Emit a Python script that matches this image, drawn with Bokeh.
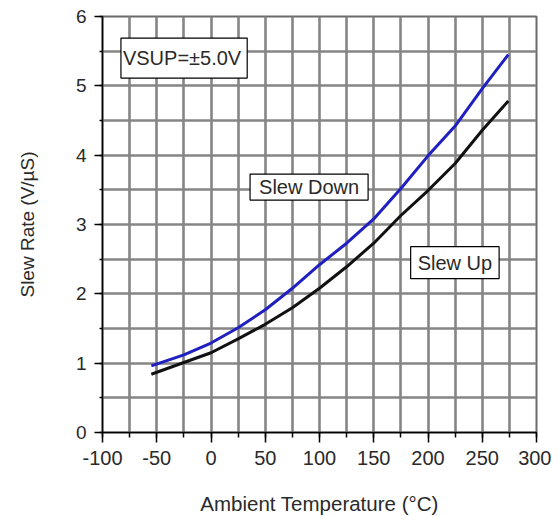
from bokeh.plotting import figure
from bokeh.models import FixedTicker, Label, Range1d
from bokeh.embed import file_html
from bokeh.resources import INLINE

# Data
temp = [-55, -25, 0, 25, 50, 75, 100, 125, 150, 175, 200, 225, 250, 274]
slew_down = [0.96, 1.12, 1.29, 1.51, 1.77, 2.08, 2.42, 2.73, 3.08, 3.52, 3.99, 4.42, 4.96, 5.45]
slew_up = [0.84, 1.01, 1.15, 1.35, 1.56, 1.80, 2.08, 2.39, 2.73, 3.13, 3.49, 3.88, 4.36, 4.78]

x_major = list(range(-100, 301, 50))
x_minor = list(range(-100, 301, 25))
x_labels = {v: str(v) for v in x_major}  # plain hyphen minus like the reference
y_major = [0, 1, 2, 3, 4, 5, 6]
y_minor = [i * 0.5 for i in range(13)]

FONT = "Liberation Sans"
TXT = "#2a2a2a"

p = figure(frame_width=434, frame_height=416, output_backend="svg", toolbar_location=None,
           x_range=Range1d(-100, 300), y_range=Range1d(0, 6),
           min_border_left=102, min_border_top=16, min_border_right=15, min_border_bottom=80)
p.background_fill_color = "white"
p.outline_line_color = "#6a6a6a"
p.outline_line_width = 2

# grids
p.xgrid.ticker = FixedTicker(ticks=x_minor)
p.ygrid.ticker = FixedTicker(ticks=y_minor)
for g in (p.xgrid, p.ygrid):
    g.grid_line_color = "#858585"
    g.grid_line_width = 2.6

# axes
p.xaxis.ticker = FixedTicker(ticks=x_major, minor_ticks=x_minor)
p.yaxis.ticker = FixedTicker(ticks=y_major, minor_ticks=y_minor)
p.xaxis.major_label_overrides = x_labels
for ax in (p.xaxis, p.yaxis):
    ax.axis_line_color = "black"
    ax.axis_line_width = 1.5
    ax.major_tick_line_color = "black"
    ax.minor_tick_line_color = "black"
    ax.major_tick_line_width = 1.5
    ax.minor_tick_line_width = 1.5
    ax.major_tick_in = 0
    ax.minor_tick_in = 0
    ax.major_label_text_font = FONT
    ax.major_label_text_color = TXT
    ax.axis_label_text_font = FONT
    ax.axis_label_text_color = TXT
    ax.axis_label_text_font_style = "normal"

p.xaxis.major_tick_out = 10
p.xaxis.minor_tick_out = 5
p.xaxis.major_label_text_font_size = "20px"
p.xaxis.major_label_standoff = 8
p.xaxis.axis_label = "Ambient Temperature (°C)"
p.xaxis.axis_label_text_font_size = "20.5px"
p.xaxis.axis_label_standoff = 24

p.yaxis.major_tick_out = 8
p.yaxis.minor_tick_out = 3
p.yaxis.major_label_text_font_size = "19px"
p.yaxis.major_label_standoff = 8
p.yaxis.axis_label = "Slew Rate (V/µS)"
p.yaxis.axis_label_text_font_size = "19px"
p.yaxis.axis_label_standoff = 35

# curves
p.line(temp, slew_down, line_color="#2020c0", line_width=3)
p.line(temp, slew_up, line_color="#111111", line_width=3)

# annotations
def box_label(x, y, text, pad):
    lab = Label(x=x, y=y, text=text, text_font=FONT, text_font_size="20px",
                text_color=TXT, text_align="left", text_baseline="middle",
                background_fill_color="white", border_line_color="black",
                border_line_width=1.2, padding=pad)
    p.add_layout(lab)

box_label(-83, 5.40, "VSUP=±5.0V", dict(left=2, right=6, top=9, bottom=9))
box_label(36, 3.54, "Slew Down", dict(left=9, right=9, top=2, bottom=2))
box_label(184, 2.45, "Slew Up", dict(left=7, right=7, top=5, bottom=5))

open("out.html", "w").write(file_html(p, INLINE))
